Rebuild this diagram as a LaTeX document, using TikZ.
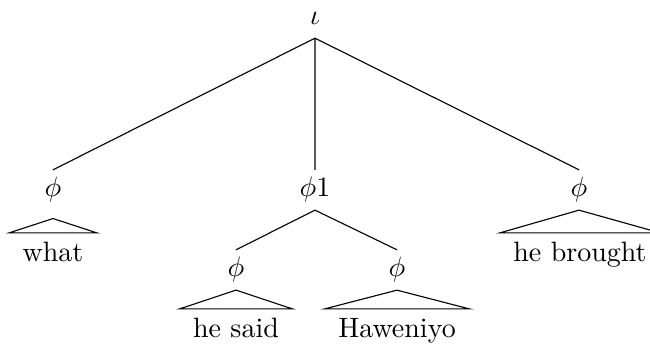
\documentclass[tikz,border=0pt]{standalone}
\usepackage{amssymb,mathtools}
\usetikzlibrary{calc}

\begin{document}
\begin{tikzpicture}[x=0.357pt, y=0.357pt,
  cat/.style={anchor=base, inner sep=2.5pt, text height=7pt, text depth=2pt},
  word/.style={anchor=base, inner xsep=4.6pt, inner ysep=3.2pt, text height=7pt, text depth=2pt}]
\useasboundingbox (0,0) rectangle (650,345);
\node[cat] (iota) at (315,320) {$\iota$};
\node[cat] (phiA) at (53,148) {$\phi$};
\node[cat] (phiB) at (315,148) {$\phi1$};
\node[cat] (phiC) at (579,148) {$\phi$};
\node[cat] (phiBa) at (236,68) {$\phi$};
\node[cat] (phiBb) at (397,68) {$\phi$};
\node[word] (what) at (53,83) {what};
\node[word] (brought) at (580,83) {he brought};
\node[word] (said) at (236,7) {he said};
\node[word] (haw) at (397,7) {Haweniyo};
\draw (iota.south) -- (phiA.north) (iota.south) -- (phiB.north) (iota.south) -- (phiC.north);
\draw (phiB.south) -- (phiBa.north) (phiB.south) -- (phiBb.north);
% roofs
\draw ([yshift=-3pt]phiA.south) -- (what.north west) -- (what.north east) -- cycle;
\draw (phiC.south) -- (brought.north west) -- (brought.north east) -- cycle;
\draw (phiBa.south) -- (said.north west) -- (said.north east) -- cycle;
\draw (phiBb.south) -- (haw.north west) -- (haw.north east) -- cycle;
\end{tikzpicture}
\end{document}
